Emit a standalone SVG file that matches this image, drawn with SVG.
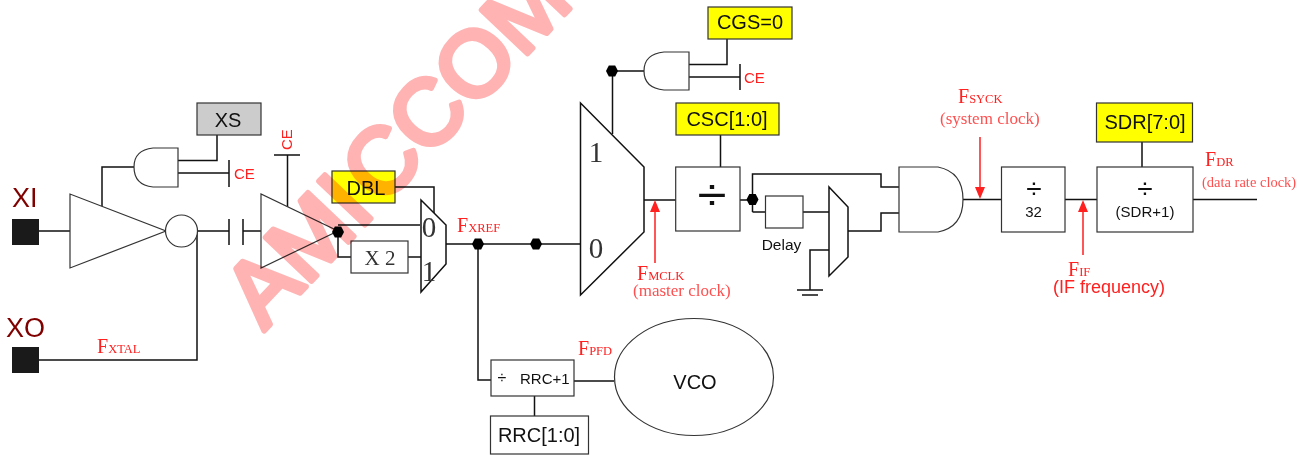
<svg xmlns="http://www.w3.org/2000/svg" width="1309" height="455" viewBox="0 0 1309 455">
<style>
text{font-family:"Liberation Sans",Arial,sans-serif;fill:#111}
.s{font-family:"Liberation Serif","Times New Roman",serif;fill:#ff2020;font-size:20px}
.s tspan{font-size:12.5px}
.r{font-family:"Liberation Serif","Times New Roman",serif;fill:#ff5050;font-size:17px}
.t{font-family:"Liberation Serif","Times New Roman",serif;fill:#333;font-size:29px}
.ce{fill:#ff2020;font-size:15px}
.l{fill:none;stroke:#111;stroke-width:1.5}
.b{fill:#fff;stroke:#333;stroke-width:1.2}
.y{fill:#ff0;stroke:#333;stroke-width:1.2}
.d{fill:#000}
.a{fill:none;stroke:#ff2020;stroke-width:1.5}
.h{fill:#ff2020}
.lab{font-size:20px}
.wm{font-size:92px;fill:#ffb3b3;stroke:#ffb3b3;stroke-width:5.500;stroke-linejoin:round;stroke-linecap:round;mix-blend-mode:multiply;font-family:"Liberation Sans",Arial,sans-serif}
</style>
<defs><path id="dot" class="d" d="M-6 0L-3.200-5.500H3.200L6 0L3.200 5.500H-3.200Z"/></defs>
<rect width="1309" height="455" fill="#fff"/>
<g id="connectors">
<path class="l" d="M39 231H70M102 207V167H134M217 135V160.500H178M178 173H229M229 160V187M197 231H229M229 219V245M243 219V245M243 231H261M39 360H197V231M287.500 155V207M274 155H300M338 225H420M338 232V257H351M408 257H421M395 187H434V213M446 244H580M478 244V380H491M574 381H614M534.500 396V416M644 200H676M720.500 135V167M727 39V64.500H689M689 77H740M740 64V90M612 71H644M612.500 71V134M740 200H753M752.500 212V174H881V187H899M752.500 212H765.500M803 212H829M848 231H881V213H899M829 250H810V290M797 290H823M802 295H818M963 199.500H1001.500M1065 199.500H1097M1193 199.500H1257M1142 142V167"/>
<path class="a" d="M980 137V190M1083 255V210M655 263V210"/>
<path class="h" d="M975 187H985L980 199ZM1078 212H1088L1083 200ZM650 212H660L655 200Z"/>
</g>
<g id="xi"><rect x="12" y="219" width="27" height="26" fill="#1a1a1a"/><text x="12" y="207" font-size="27" style="fill:#800000">XI</text></g>
<g id="xo"><rect x="12" y="347" width="27" height="26" fill="#1a1a1a"/><text x="6" y="337" font-size="27" style="fill:#800000">XO</text></g>
<g id="amp1"><path class="b" d="M70 194V268L166 231Z"/><circle class="b" cx="181.500" cy="231" r="16"/></g>
<g id="amp2"><path class="b" d="M261 194V268L338 231Z"/></g>
<g id="and1"><path class="b" d="M178 148H153Q134 150 134 167Q134 185 153 187H178Z"/></g>
<g id="xs"><rect x="197" y="103" width="64" height="32" fill="#ccc" stroke="#333" stroke-width="1.2"/><text class="lab" x="228" y="127" text-anchor="middle">XS</text></g>
<g id="ce1"><text class="ce" x="234" y="179">CE</text></g>
<g id="ce2"><text class="ce" transform="translate(292 150) rotate(-90)">CE</text></g>
<g id="fxtal"><text class="s" x="97" y="353">F<tspan>XTAL</tspan></text></g>
<g id="dbl"><rect class="y" x="332" y="171" width="63" height="32"/><text class="lab" x="366" y="195" text-anchor="middle">DBL</text></g>
<g id="x2"><rect class="b" x="351" y="241" width="57" height="32"/><text class="t" x="380" y="265" text-anchor="middle" style="font-size:21px">X 2</text></g>
<g id="mux1"><path class="b" style="stroke:#111;stroke-width:1.5" d="M421 200L446 225V264L421 292Z"/><text class="t" x="429" y="237" text-anchor="middle">0</text><text class="t" x="429" y="281" text-anchor="middle">1</text></g>
<g id="fxref"><text class="s" x="457" y="232">F<tspan>XREF</tspan></text></g>
<g id="dots"><use href="#dot" x="338" y="232"/><use href="#dot" x="478" y="244"/><use href="#dot" x="536" y="244"/><use href="#dot" x="612" y="71"/><use href="#dot" x="752.500" y="199.500"/></g>
<g id="rrc1"><rect class="b" x="491" y="360" width="83" height="36"/><text x="502" y="383" font-size="16" text-anchor="middle">÷</text><text x="520" y="384" font-size="15">RRC+1</text></g>
<g id="rrc"><rect class="b" x="490.500" y="416" width="98" height="38"/><text class="lab" x="539" y="442" text-anchor="middle">RRC[1:0]</text></g>
<g id="fpfd"><text class="s" x="578" y="355">F<tspan>PFD</tspan></text></g>
<g id="vco"><ellipse class="b" cx="694" cy="377" rx="79.500" ry="58.500"/><text class="lab" x="695" y="389" text-anchor="middle">VCO</text></g>
<g id="mux2"><path class="b" style="stroke:#111;stroke-width:1.5" d="M580.500 103L644 167V232L580.500 295Z"/><text class="t" x="596" y="162" text-anchor="middle">1</text><text class="t" x="596" y="258" text-anchor="middle">0</text></g>
<g id="and2"><path class="b" d="M689 52H664Q644 54 644 71Q644 88 664 90H689Z"/></g>
<g id="cgs"><rect class="y" x="708" y="7" width="84" height="32"/><text class="lab" x="750" y="29" text-anchor="middle">CGS=0</text></g>
<g id="ce3"><text class="ce" x="744" y="83">CE</text></g>
<g id="csc"><rect class="y" x="676" y="103" width="103" height="32"/><text class="lab" x="727" y="126" text-anchor="middle">CSC[1:0]</text></g>
<g id="div1"><rect class="b" x="675.700" y="167" width="64.300" height="64"/><text transform="translate(712 210) scale(1.200 1)" font-size="44" text-anchor="middle">÷</text></g>
<g id="fmclk"><text class="s" x="637" y="280">F<tspan>MCLK</tspan></text><text class="r" x="633" y="296">(master clock)</text></g>
<g id="delay"><rect class="b" x="765.500" y="196" width="37.500" height="32"/><text x="781.500" y="250" font-size="15.500" text-anchor="middle">Delay</text></g>
<g id="mux3"><path class="b" style="stroke:#111;stroke-width:1.5" d="M829 187L848 207V257L829 276Z"/></g>
<g id="and3"><path class="b" d="M899 167H938Q963 172 963 199.500Q963 227 938 232H899Z"/></g>
<g id="fsyck"><text class="s" x="958" y="103">F<tspan>SYCK</tspan></text><text class="r" x="940" y="124">(system clock)</text></g>
<g id="div32"><rect class="b" x="1001.500" y="167" width="63.500" height="65"/><text x="1034" y="198" font-size="28" text-anchor="middle">÷</text><text x="1033.500" y="217" font-size="15" text-anchor="middle">32</text></g>
<g id="fif"><text class="s" x="1068" y="276">F<tspan>IF</tspan></text><text x="1053" y="293" font-size="18" style="fill:#ff2020">(IF frequency)</text></g>
<g id="sdr"><rect class="y" x="1096.500" y="103" width="96" height="39"/><text class="lab" x="1145" y="129" text-anchor="middle">SDR[7:0]</text></g>
<g id="div2"><rect class="b" x="1097" y="167" width="96" height="65"/><text x="1145" y="198" font-size="28" text-anchor="middle">÷</text><text x="1145" y="217" font-size="15" text-anchor="middle">(SDR+1)</text></g>
<g id="fdr"><text class="s" x="1205" y="166">F<tspan>DR</tspan></text><text class="r" x="1202" y="187" style="font-size:14.500px">(data rate clock)</text></g>
<g id="watermark"><text class="wm" transform="translate(264 331) rotate(-46.500)">AMI<tspan dx="7">CCOM</tspan></text></g>
</svg>
